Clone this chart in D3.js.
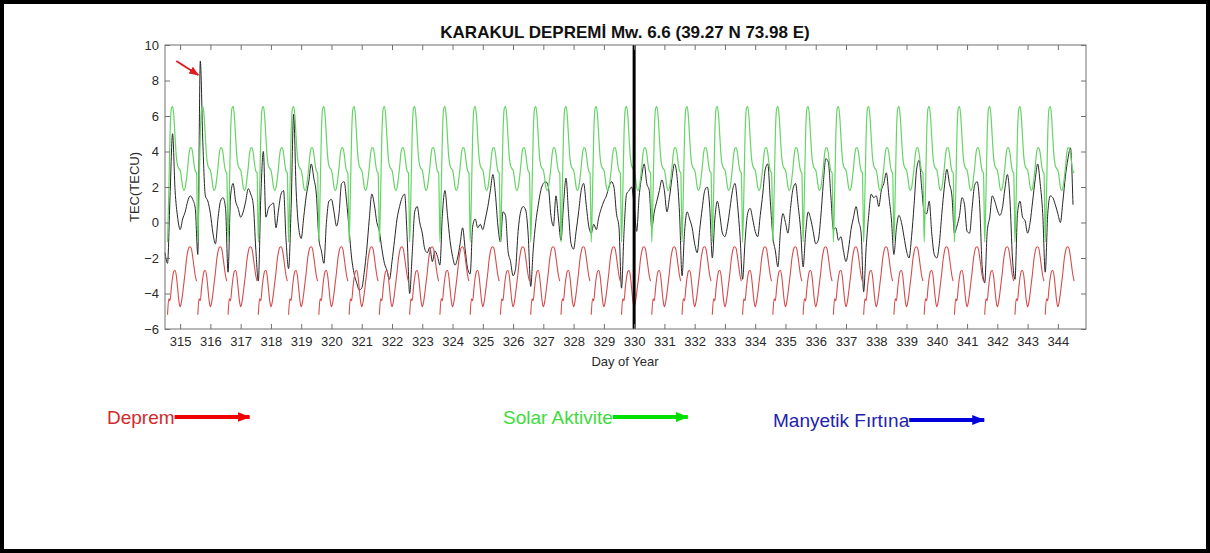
<!DOCTYPE html>
<html>
<head>
<meta charset="utf-8">
<script src="https://cdn.jsdelivr.net/npm/d3@7/dist/d3.min.js"></script>
<style>
	body { margin: 0; background: #fff; }
	svg { display: block; font-family: Arial, "Liberation Sans", sans-serif; }
</style>
</head>
<body>
<svg id="chart" width="1210" height="553"></svg>
<script>
var title = "KARAKUL DEPREMİ Mw. 6.6 (39.27 N 73.98 E)";
var xLabel = "Day of Year";
var yLabel = "TEC(TECU)";

var dayTicks = [315, 316, 317, 318, 319, 320, 321, 322, 323, 324, 325, 326, 327, 328, 329,
	330, 331, 332, 333, 334, 335, 336, 337, 338, 339, 340, 341, 342, 343, 344];
var yTicks = [-6, -4, -2, 0, 2, 4, 6, 8, 10];

var quakeDay = 330;
var firstDay = 314;
var lastDay = 344;

// upper / lower bounds repeat the same shape every day (hour of day -> TECU)
var profileHours = [0, 1, 2, 3, 4, 5, 6, 7, 8, 9, 10, 11, 12, 13, 13.5, 14, 15, 16, 17, 18, 19, 20, 21, 22, 23];
var upperDay = [2.95, 2.55, 2.0, 1.8, 1.95, 2.45, 3.1, 3.85, 4.2, 4.2, 3.9, 3.3, 2.9, 2.8, 1.0, -1.1, 1.6, 5.0, 6.4, 6.55, 6.0, 4.8, 3.7, 3.2, 3.05];
var lowerDay = [-4.75, -4.5, -4.0, -3.4, -2.8, -2.1, -1.65, -1.4, -1.37, -1.5, -1.95, -2.5, -3.0, -3.3, null, -5.2, -4.3, -4.4, -3.7, -3.1, -2.75, -2.7, -3.0, -3.7, -4.4];
var boundStart = 314.58;
var boundEnd = 344.55;

// observed TEC, every 2 hours from day 314.5
var tecStart = 314.5;
var tecStepHours = 2;
var tecValues = [
	-1.7, -2.3, 1.5, 5.0, 1.8, 0.3,
	-0.4, 0.2, 0.6, 1.2, 1.5, 1.3, 0.8, -1.8, 9.1, 4.5, 1.5, 1.2,
	0.5, -0.6, -1.2, 0.2, 1.2, 1.4, 0.8, -2.8, 1.5, 2.2, 1.2, 0.8,
	0.3, 0.6, 1.2, 1.9, 1.6, 1.0, -1.5, -3.3, 1.5, 4.0, 0.3, 0.8,
	1.0, 1.1, -0.3, 0.7, 1.6, 1.8, -1.0, -2.6, 0.8, 6.1, 1.8, -0.3,
	-0.9, 0.3, 1.5, 2.3, 3.3, 2.5, 1.6, -0.9, -1.6, -2.3, 0.0, 1.2,
	1.3, 0.6, -0.2, 0.5, 2.2, 2.3, 1.2, -0.4, -2.0, -2.9, -3.4, -3.8,
	-3.7, -2.8, -1.5, 0.2, 1.6, 1.0, 0.0, -0.5, -1.5, -2.3, -2.7, -3.2,
	-2.2, -1.0, 0.2, 0.9, 1.4, 1.6, -0.8, -4.0, -1.8, 0.6, 0.9, 0.0,
	-0.6, -1.5, -1.7, -1.4, -2.2, -1.6, -1.9, -2.4, 0.5, 1.8, 0.4, -1.0,
	-1.9, -2.4, -2.0, -1.2, -0.3, -1.5, -2.6, -2.9, -0.2, 0.2, -0.3, -0.1,
	-0.4, 0.2, 0.9, 1.8, 2.7, 1.6, -0.2, -1.1, 0.6, 0.4, -1.6, -2.2,
	-3.0, -2.6, -0.5, 0.6, 0.9, 0.7, -0.7, -3.6, -1.5, 0.0, 1.0, 1.8,
	2.2, 2.3, 2.0, 0.4, -0.2, 1.5, 0.2, -1.0, 1.0, 2.5, 0.5, -1.2,
	-1.5, -0.5, 0.6, 1.8, 2.2, 1.0, -0.2, -0.6, -0.1, -0.4, 0.3, 0.8,
	1.2, 1.5, 2.0, 2.3, 2.0, 0.5, -0.3, -3.7, -0.5, 1.6, 1.8, 2.0,
	1.0, -0.5, 1.5, 2.6, 3.3, 2.2, 1.8, -0.3, 0.6, 1.2, 1.8, 2.4,
	1.8, 0.6, 1.4, 2.5, 3.3, 2.6, 0.5, -3.0, -0.5, 0.6, 0.2, -0.3,
	-1.2, -1.7, -0.4, 0.8, 1.8, 2.0, 0.8, -2.0, 0.2, 1.2, 0.4, -0.6,
	-0.8, -0.2, 0.8, 1.8, 2.2, 1.0, -0.8, -3.2, -1.0, 0.5, 0.8, 0.2,
	-0.5, -0.8, 0.4, 1.6, 3.0, 3.3, 1.2, -0.8, -1.6, -2.5, -0.5, 0.5,
	0.0, -0.6, 0.8, 1.9, 2.2, 1.0, -0.4, -2.5, -0.6, 0.6, 0.2, -0.5,
	-1.2, -1.0, 0.3, 2.2, 3.6, 3.4, 1.5, -0.4, -0.3, -1.0, -0.8, -1.6,
	-2.2, -1.5, -0.4, 0.3, 0.9, 0.1, -0.6, -3.9, -1.4, 0.4, 1.6, 1.4,
	1.5, 0.9, 1.8, 2.2, 2.8, 1.5, 0.2, -1.8, -0.3, 0.4, 0.0, -0.8,
	-1.6, -2.0, -0.8, 1.0, 3.0, 3.5, 2.0, 0.6, 0.5, 1.2, -0.6, -1.8,
	-2.0, -1.2, 0.5, 2.0, 3.0, 2.2, 1.5, -0.6, -0.2, 0.4, 1.4, 1.0,
	-0.5, -0.6, 0.8, 2.1, 2.3, 1.0, -2.5, -3.4, -0.5, 0.3, 1.5, 1.2,
	0.7, 0.4, 0.8, 1.9, 2.7, 1.3, -2.0, -3.2, 0.5, 1.2, 0.3, 0.1,
	-0.6, 0.0, 1.2, 2.4, 3.3, 2.2, 0.5, -2.8, 0.5, 1.5, 1.4, 1.0,
	0.5, 0.0, 1.2, 2.6, 3.6, 4.2, 1.0
];

var legendLabels = ["Deprem", "Solar Aktivite", "Manyetik Fırtına"];
var legendTextColors = ["#d22a2a", "#3ddc3d", "#2222b0"];
var legendArrowColors = ["#f00000", "#00e000", "#0000dd"];

var margin = { left: 165, top: 45, right: 1086, bottom: 329 };

var svg = d3.select("#chart");

var x = d3.scaleLinear().domain([314.5, 344.93]).range([margin.left, margin.right]);
var y = d3.scaleLinear().domain([-6, 10]).range([margin.bottom, margin.top]);

// build the bound series by repeating the daily profile
var upper = [], lower = [];
for (var d = firstDay; d <= lastDay; d++) {
	profileHours.forEach(function(h, i) {
		var t = d + h / 24;
		if (t < boundStart || t > boundEnd) return;
		upper.push({ t: t, v: upperDay[i] });
		lower.push({ t: t, v: lowerDay[i] });
	});
}
var tec = tecValues.map(function(v, i) {
	return { t: tecStart + i * tecStepHours / 24, v: v };
});

// outer frame
svg.append("rect")
	.attr("x", 2).attr("y", 2)
	.attr("width", 1206).attr("height", 549)
	.attr("fill", "#fff")
	.attr("stroke", "#000")
	.attr("stroke-width", 4);

svg.append("text")
	.attr("x", 625).attr("y", 38)
	.attr("text-anchor", "middle")
	.style("font-size", "17px")
	.style("font-weight", "bold")
	.attr("fill", "#111")
	.text(title);

var line = d3.line()
	.defined(function(d) { return d.v !== null; })
	.curve(d3.curveMonotoneX)
	.x(function(d) { return x(d.t); })
	.y(function(d) { return y(d.v); });

var plot = svg.append("g");

plot.append("path")
	.datum(tec)
	.attr("d", line)
	.attr("fill", "none")
	.attr("stroke", "#262626")
	.attr("stroke-width", 1);

plot.append("path")
	.datum(upper)
	.attr("d", line)
	.attr("fill", "none")
	.attr("stroke", "#66d466")
	.attr("stroke-width", 1.2);

plot.append("path")
	.datum(lower)
	.attr("d", line)
	.attr("fill", "none")
	.attr("stroke", "#d44c4c")
	.attr("stroke-width", 1.1);

// earthquake day
plot.append("line")
	.attr("x1", x(quakeDay)).attr("x2", x(quakeDay))
	.attr("y1", margin.top).attr("y2", margin.bottom)
	.attr("stroke", "#000")
	.attr("stroke-width", 3);

// axes, ticks pointing inwards
var axisColor = "#707070";
function styleAxis(g) {
	g.select(".domain").remove();
	g.selectAll(".tick line").attr("stroke", axisColor);
	g.selectAll(".tick text")
		.attr("fill", "#2a2a2a")
		.style("font-size", "13px")
		.style("font-family", "Arial, 'Liberation Sans', sans-serif");
}

svg.append("g")
	.attr("transform", "translate(0," + margin.bottom + ")")
	.call(d3.axisBottom(x).tickValues(dayTicks).tickSize(-5).tickPadding(8))
	.call(styleAxis);
svg.append("g")
	.attr("transform", "translate(0," + margin.top + ")")
	.call(d3.axisTop(x).tickValues(dayTicks).tickSize(-5).tickFormat(""))
	.call(styleAxis);
svg.append("g")
	.attr("transform", "translate(" + margin.left + ",0)")
	.call(d3.axisLeft(y).tickValues(yTicks).tickSize(-5).tickPadding(6))
	.call(styleAxis);
svg.append("g")
	.attr("transform", "translate(" + margin.right + ",0)")
	.call(d3.axisRight(y).tickValues(yTicks).tickSize(-5).tickFormat(""))
	.call(styleAxis);

svg.append("rect")
	.attr("x", margin.left).attr("y", margin.top)
	.attr("width", margin.right - margin.left)
	.attr("height", margin.bottom - margin.top)
	.attr("fill", "none")
	.attr("stroke", axisColor)
	.attr("stroke-width", 1);

svg.append("text")
	.attr("x", 625).attr("y", 366)
	.attr("text-anchor", "middle")
	.style("font-size", "13px")
	.attr("fill", "#2a2a2a")
	.text(xLabel);

svg.append("text")
	.attr("transform", "translate(139," + ((margin.top + margin.bottom) / 2) + ") rotate(-90)")
	.attr("text-anchor", "middle")
	.style("font-size", "13px")
	.attr("fill", "#2a2a2a")
	.text(yLabel);

// arrow heads
var defs = svg.append("defs");
function addHead(id, colour, len, half) {
	defs.append("marker")
		.attr("id", id)
		.attr("viewBox", "0 0 " + len + " " + (half * 2))
		.attr("refX", len - 1).attr("refY", half)
		.attr("markerWidth", len).attr("markerHeight", half * 2)
		.attr("markerUnits", "userSpaceOnUse")
		.attr("orient", "auto")
		.append("path")
		.attr("d", "M0,0 L" + len + "," + half + " L0," + (half * 2) + " Z")
		.attr("fill", colour);
}
addHead("head-spike", "#e01b1b", 10, 4);
legendArrowColors.forEach(function(c, i) { addHead("head-" + i, c, 13, 5); });

// arrow at the largest TEC value
var spike = tec.reduce(function(a, b) { return b.v > a.v ? b : a; });
var tipX = x(spike.t) - 2, tipY = y(spike.v) + 14;
svg.append("line")
	.attr("x1", tipX - 22).attr("y1", tipY - 14)
	.attr("x2", tipX).attr("y2", tipY)
	.attr("stroke", "#e01b1b")
	.attr("stroke-width", 2)
	.attr("marker-end", "url(#head-spike)");

// legend row
var legendX = [107, 503, 773];
var legendY = [424, 424, 427];
legendLabels.forEach(function(label, i) {
	var t = svg.append("text")
		.attr("x", legendX[i]).attr("y", legendY[i])
		.style("font-size", "19px")
		.attr("fill", legendTextColors[i])
		.text(label);
	var w = t.node().getComputedTextLength();
	var ay = legendY[i] - 7;
	svg.append("line")
		.attr("x1", legendX[i] + w).attr("y1", ay)
		.attr("x2", legendX[i] + w + 75).attr("y2", ay)
		.attr("stroke", legendArrowColors[i])
		.attr("stroke-width", 4)
		.attr("marker-end", "url(#head-" + i + ")");
});
</script>
</body>
</html>
